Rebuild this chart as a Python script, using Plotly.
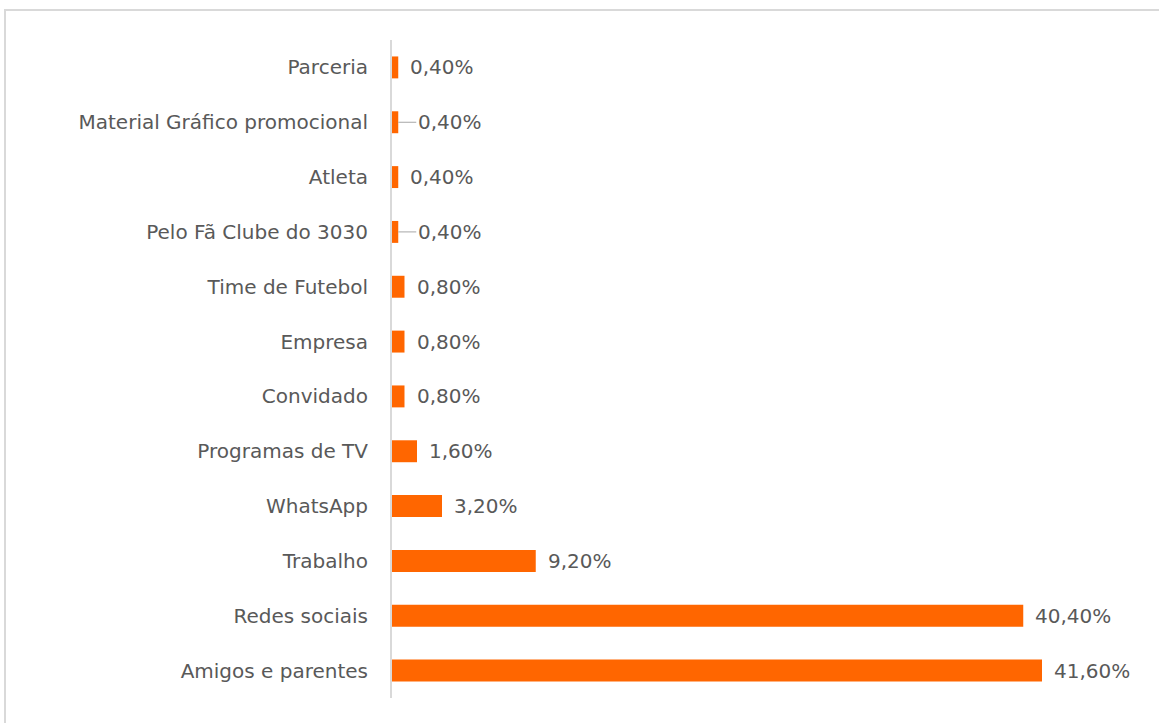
import plotly.graph_objects as go

categories = [
    "Amigos e parentes",
    "Redes sociais",
    "Trabalho",
    "WhatsApp",
    "Programas de TV",
    "Convidado",
    "Empresa",
    "Time de Futebol",
    "Pelo Fã Clube do 3030",
    "Atleta",
    "Material Gráfico promocional",
    "Parceria",
]
values = [41.6, 40.4, 9.2, 3.2, 1.6, 0.8, 0.8, 0.8, 0.4, 0.4, 0.4, 0.4]
# labels pulled away from the bar with a small leader line
leader = ["Pelo Fã Clube do 3030", "Material Gráfico promocional"]

ORANGE = "#FF6600"
GREY = "#595959"
FONT = "DejaVu Sans"
SIZE = 20

fig = go.Figure(
    go.Bar(
        x=values,
        y=categories,
        orientation="h",
        marker=dict(color=ORANGE, line=dict(width=0)),
        width=0.4,
        hoverinfo="skip",
    )
)

for cat, v in zip(categories, values):
    label = f"{v:.2f}%".replace(".", ",")
    if cat in leader:
        fig.add_annotation(
            x=v, y=cat, text=label, showarrow=True, arrowhead=0,
            arrowwidth=1, arrowcolor="#a6a6a6", ax=18, ay=0,
            xanchor="left", standoff=0, font=dict(size=SIZE, color=GREY, family=FONT),
        )
    else:
        fig.add_annotation(
            x=v, y=cat, text=label, showarrow=False, xanchor="left",
            xshift=10, font=dict(size=SIZE, color=GREY, family=FONT),
        )

# chart-area border
fig.add_shape(
    type="rect", xref="paper", yref="paper",
    x0=-0.516, x1=1.2, y0=-0.2, y1=1.0456,
    line=dict(color="#d9d9d9", width=2), layer="below",
)

fig.update_layout(
    width=1159,
    height=723,
    margin=dict(l=392, r=17, t=40, b=25, autoexpand=False),
    paper_bgcolor="white",
    plot_bgcolor="white",
    showlegend=False,
    font=dict(family=FONT, size=SIZE, color=GREY),
)
fig.update_xaxes(range=[0, 48], visible=False)
fig.update_yaxes(
    categoryorder="array",
    categoryarray=categories,
    range=[-0.5, len(categories) - 0.5],
    showline=True,
    linecolor="#d9d9d9",
    linewidth=2,
    showgrid=False,
    ticks="",
    ticklabelstandoff=18,
    tickfont=dict(size=SIZE, color=GREY, family=FONT),
    automargin=False,
)

fig.write_html(
    "out.html",
    config={"displayModeBar": False},
    post_script="document.body.style.margin='0';",
)
